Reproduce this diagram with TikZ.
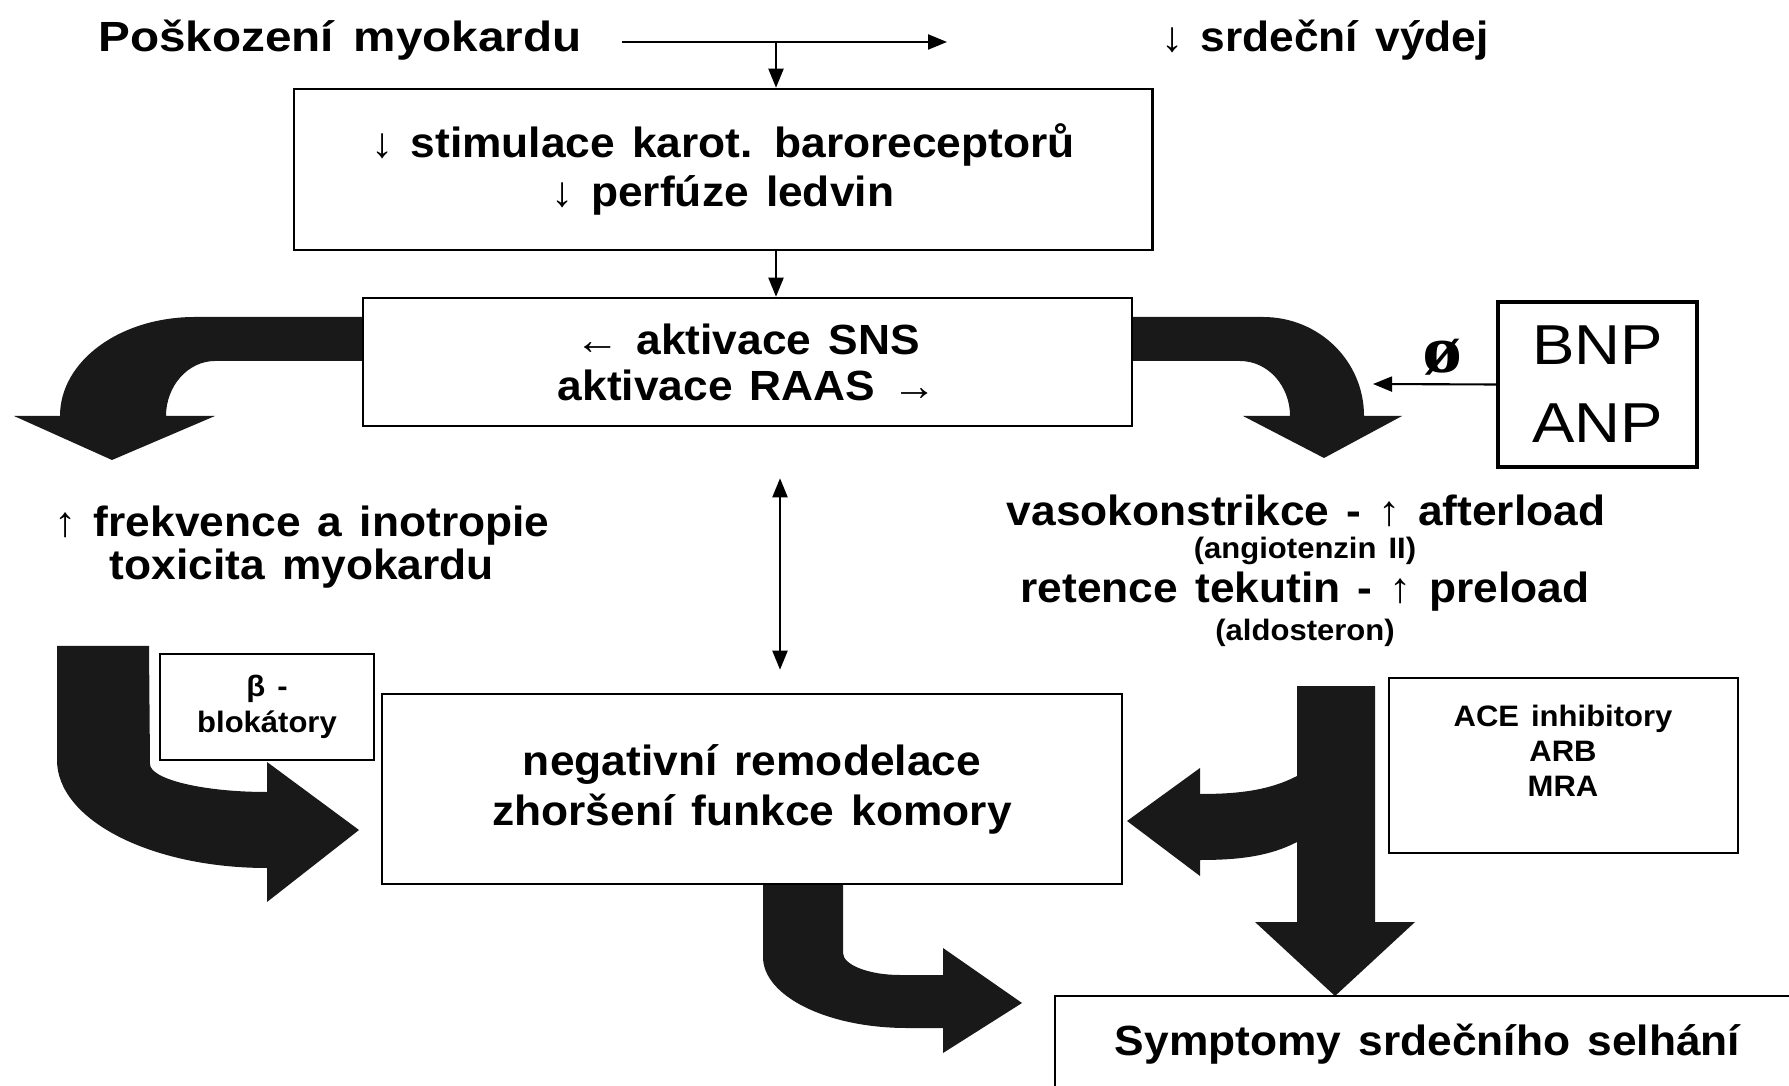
\documentclass[tikz,border=0pt]{standalone}
\usepackage{fontspec}
\setmainfont{Liberation Sans}[FakeStretch=1.05,WordSpace=1.4]
\newfontfamily\widefont{Liberation Sans}[FakeStretch=1.13,WordSpace=1.5]
\newfontfamily\timesfont{Liberation Serif}[FakeStretch=1.2]
\usetikzlibrary{arrows.meta}
\newcommand{\boxfont}[1]{\fontsize{12}{#1}\selectfont\bfseries}
\newcommand{\notefont}[1]{\fontsize{8.4}{#1}\selectfont\bfseries}

\begin{document}
\begin{tikzpicture}[x=0.01cm, y=-0.01cm,
    box/.style={draw, line width=0.7pt, fill=white, align=center, inner sep=0pt},
    flow/.style={line width=0.6pt, -{Triangle[length=0.19cm,width=0.15cm]}},
    both/.style={line width=0.6pt,
      {Triangle[length=0.19cm,width=0.15cm]}-{Triangle[length=0.19cm,width=0.15cm]}},
    fat/.style={fill=black!90}]
  \useasboundingbox (0,0) rectangle (1789,1086);
  \clip (0,0) rectangle (1789,1086);
  %-------------------------------------------------- block arrows
  % SNS to the left
  \fill[fat] (380,317) -- (195,317) .. controls (120,317) and (60,361) .. (60,416)
    -- (14,416) -- (112,460) -- (215,416) -- (166,416)
    .. controls (166,386) and (188,361) .. (215,361) -- (380,361) -- cycle;
  % RAAS to the right
  \fill[fat] (1120,317) -- (1263,317) .. controls (1319,317) and (1364,361) .. (1364,416)
    -- (1402,416) -- (1324,458) -- (1243,416) -- (1290,416)
    .. controls (1290,386) and (1268,361) .. (1240,361) -- (1120,361) -- cycle;
  % frekvence -> remodelace
  \fill[fat] (57,646) -- (149,646) -- (150,764) .. controls (150,779) and (202,792) .. (267,792)
    -- (267,762) -- (359,830) -- (267,902) -- (267,868)
    .. controls (151,868) and (57,820) .. (57,760) -- cycle;
  % vasokonstrikce -> symptomy, with a branch to remodelace
  \fill[fat] (1297,686) -- (1375,686) -- (1375,922) -- (1415,922) -- (1335,996)
    -- (1255,922) -- (1297,922) -- (1297,842)
    .. controls (1270,856) and (1240,860) .. (1200,860) -- (1200,876) -- (1127,821)
    -- (1200,768) -- (1200,794) .. controls (1240,794) and (1270,790) .. (1297,776) -- cycle;
  % remodelace -> symptomy
  \fill[fat] (763,870) -- (843,870) -- (843,953) .. controls (843,965) and (869,975) .. (900,975)
    -- (943,975) -- (943,948) -- (1022,1003) -- (943,1053) -- (943,1028) -- (907,1028)
    .. controls (827,1028) and (763,996) .. (763,957) -- cycle;
  %-------------------------------------------------- boxes
  \node[box, minimum width=8.58cm, minimum height=1.61cm, font=\boxfont{13.9pt}]
    (baro) at (723,169.5) {↓ stimulace karot. baroreceptorů\\↓ perfúze ledvin};
  \node[box, minimum width=7.69cm, minimum height=1.28cm, font=\boxfont{13.1pt}]
    (sns) at (747.5,362) {← aktivace SNS\\aktivace RAAS →};
  \node[box, line width=1.1pt, minimum width=1.99cm, minimum height=1.65cm,
    font=\widefont\fontsize{16}{22.2}\selectfont] (bnp) at (1597.5,384.5) {BNP\\ANP};
  \node[box, minimum width=2.14cm, minimum height=1.06cm, font=\notefont{10.2pt}]
    (beta) at (267,707) {β -\\blokátory};
  \node[box, minimum width=7.40cm, minimum height=1.90cm, font=\boxfont{14.2pt}]
    (remod) at (752,789) {negativní remodelace\\zhoršení funkce komory};
  \node[box, minimum width=3.49cm, minimum height=1.75cm] (ace) at (1563.5,765.5) {};
  \node[font=\notefont{10pt}, align=center] (acetxt) at (1563,751)
    {ACE inhibitory\\ARB\\MRA};
  \node[box, minimum width=7.45cm, minimum height=0.96cm, font=\boxfont{14pt}]
    (symptomy) at (1427.5,1044) {Symptomy srdečního selhání};
  %-------------------------------------------------- free text
  \node[font=\widefont\boxfont{14pt}] (poskozeni) at (340,40) {Poškození myokardu};
  \node[font=\boxfont{14pt}] (vydej) at (1325,40) {↓ srdeční výdej};
  \node[font=\boxfont{12.2pt}, align=center] (ucinky) at (302,547)
    {↑ frekvence a inotropie\\toxicita myokardu};
  \node[font=\boxfont{14pt}] (vaso) at (1306,511) {vasokonstrikce - ↑ afterload};
  \node[font=\notefont{10pt}] (angio) at (1305,551) {(angiotenzin II)};
  \node[font=\boxfont{14pt}] (retence) at (1305,592) {retence tekutin - ↑ preload};
  \node[font=\notefont{10pt}] (aldo) at (1305,633) {(aldosteron)};
  \node[font=\timesfont\fontsize{19}{20}\selectfont\bfseries] (nic) at (1443,357) {ø};
  %-------------------------------------------------- thin arrows
  \coordinate (split) at (776,42);
  \coordinate (vydejin) at (947,42);
  \coordinate (dbl) at (780,0);
  \coordinate (bnpin) at (1373,384);
  \draw[flow, shorten <=0.28cm] (poskozeni.east |- vydejin) -- (vydejin);
  \draw[flow] (split) -- (split |- baro.north);
  \draw[flow] (split |- baro.south) -- (split |- sns.north);
  \draw[both, shorten <=0.51cm, shorten >=0.23cm] (sns.south -| dbl) -- (remod.north -| dbl);
  \draw[flow] (bnp.west) -- (bnpin);
\end{tikzpicture}
\end{document}
